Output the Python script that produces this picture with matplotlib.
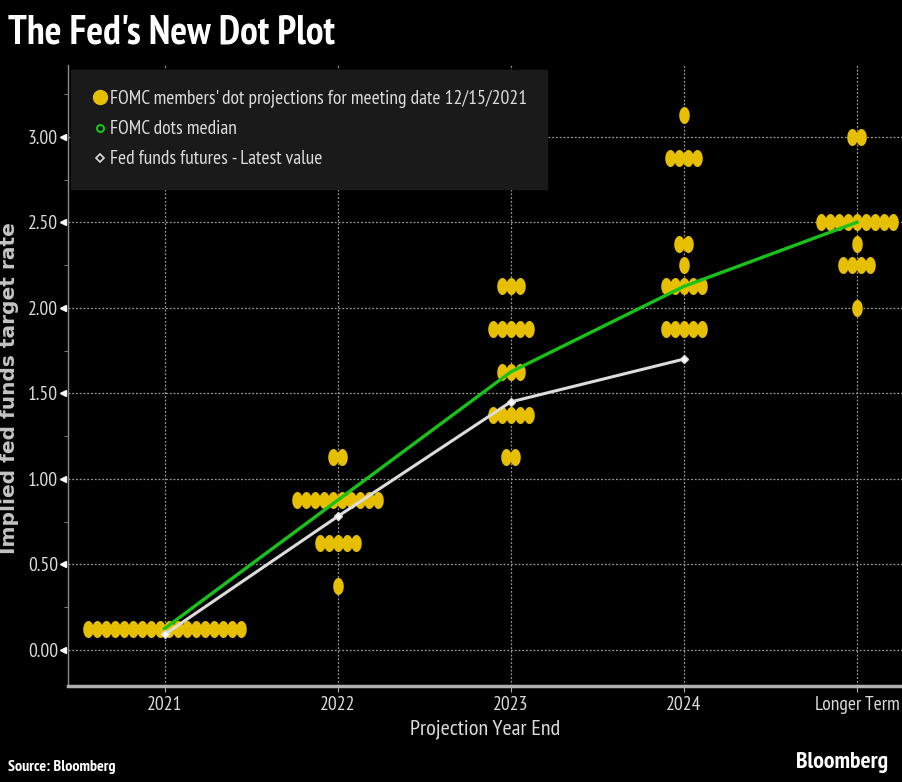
import numpy as np
import matplotlib
matplotlib.use('Agg')
from matplotlib import pyplot as plt
from matplotlib import font_manager as fm
from matplotlib.font_manager import FontProperties
from matplotlib.lines import Line2D
from matplotlib.path import Path

# the reference uses a very narrow font: look for a narrow / condensed family
cands = {}
for f in fm.fontManager.ttflist:
    if f.style != 'normal':
        continue
    if 'Narrow' in f.name or 'Condensed' in f.name or \
            str(f.stretch) in ('condensed', 'semi-condensed', 'extra-condensed'):
        w = f.weight if isinstance(f.weight, int) else fm.weight_dict.get(f.weight, 400)
        cands.setdefault(f.name, {})[w] = f.fname


def score(name):
    ws = cands[name]
    return (any(w >= 700 for w in ws), 'Narrow' in name, 400 in ws)


if cands:
    narrow = max(cands, key=score)
    ws = cands[narrow]
    reg_w = min(ws, key=lambda w: abs(w - 400))
    bold_w = max(ws)
    reg_fp = FontProperties(fname=ws[reg_w])
    bold_fp = FontProperties(fname=ws[bold_w])
    k = 1.0
else:
    reg_fp = FontProperties(family='Liberation Sans')
    bold_fp = FontProperties(family='Liberation Sans', weight='bold')
    k = 0.85
wide_bold = FontProperties(family='DejaVu Sans', weight='bold')

# data
categories = ['2021', '2022', '2023', '2024', 'Longer Term']
# dot projections: {rate: number of members} per category
dots_2021 = {0.125: 18}
dots_2022 = {1.125: 2, 0.875: 10, 0.625: 5, 0.375: 1}
dots_2023 = {2.125: 3, 1.875: 5, 1.625: 3, 1.375: 5, 1.125: 2}
dots_2024 = {3.125: 1, 2.875: 4, 2.375: 2, 2.25: 1, 2.125: 5, 1.875: 5}
dots_longer = {3.0: 2, 2.5: 9, 2.375: 1, 2.25: 4, 2.0: 1}
all_dots = [dots_2021, dots_2022, dots_2023, dots_2024, dots_longer]
median = [0.125, 0.875, 1.625, 2.125, 2.5]
futures = [0.09, 0.78, 1.45, 1.70]
yticks = [0.0, 0.5, 1.0, 1.5, 2.0, 2.5, 3.0]

yellow = '#e6c000'
green = '#19c219'
bg = 'black'
txt = '#dcdcdc'

# tall ellipse marker
t = np.linspace(0, 2*np.pi, 40)
ell = Path(np.column_stack([0.62*np.cos(t), np.sin(t)]), closed=True)

fig = plt.figure(figsize=(9.02, 7.82), dpi=100, facecolor=bg)
ax = fig.add_axes([0.075, 0.123, 0.925, 0.794], facecolor=bg)

step = 0.052
for i, d in enumerate(all_dots):
    xs, ys = [], []
    for rate, n in d.items():
        off = (np.arange(n) - (n - 1) / 2) * step
        xs.extend(i + off)
        ys.extend([rate] * n)
    ax.scatter(xs, ys, marker=ell, s=150, color=yellow, linewidths=0, zorder=3)

ax.plot(range(len(median)), median, color=green, lw=2.4, zorder=4)
ax.plot(range(len(futures)), futures, color='#dcdcdc', lw=2.2, zorder=4)
ax.plot(range(len(futures)), futures, ls='none', marker='D', ms=4,
        mfc='white', mec='#dcdcdc', zorder=5)

ax.set_xlim(-0.56, 4.26)
ax.set_ylim(-0.21, 3.42)
ax.set_xticks(range(len(categories)))
ax.set_xticklabels(categories)
ax.set_yticks(yticks)
ax.set_yticklabels(['%.2f' % v for v in yticks])
ax.set_yticks(np.arange(0.25, 3.4, 0.5), minor=True)
for lab in ax.get_xticklabels() + ax.get_yticklabels():
    lab.set_fontproperties(reg_fp)
    lab.set_fontsize(14*k)

ax.grid(True, which='major', color='#9a9a9a', ls=(0, (1.5, 1.5)), lw=0.9)
ax.set_axisbelow(True)
for s in ['top', 'right']:
    ax.spines[s].set_visible(False)
ax.spines['left'].set_color('#8a8a8a')
ax.spines['left'].set_linewidth(1.0)
ax.spines['bottom'].set_color('#b0b0b0')
ax.spines['bottom'].set_linewidth(2.5)

ax.tick_params(axis='y', which='major', colors=txt, length=0, pad=7)
ax.tick_params(axis='y', which='minor', color='#8a8a8a', length=3, direction='out')
ax.tick_params(axis='x', colors=txt, length=4, color='#b0b0b0', pad=3)
# small arrow heads on the y ticks
ax.plot([-0.005] * len(yticks), yticks, ls='none', marker='<', ms=4, color='white',
        transform=ax.get_yaxis_transform(), clip_on=False)

ax.set_xlabel('Projection Year End', color=txt, fontproperties=reg_fp,
              fontsize=16*k, labelpad=4)
ax.set_ylabel('Implied fed funds target rate', color='#c4c4c4',
              fontproperties=wide_bold, fontsize=14.5)
ax.yaxis.set_label_coords(-0.058, 0.48)

handles = [
    Line2D([], [], ls='none', marker='o', ms=10, color=yellow),
    Line2D([], [], ls='none', marker='o', ms=5, mfc='none', mec=green, mew=1.5),
    Line2D([], [], ls='none', marker='D', ms=4, mfc='none', mec='#dcdcdc', mew=1.2),
]
labels = ["FOMC members' dot projections for meeting date 12/15/2021",
          'FOMC dots median', 'Fed funds futures - Latest value']
leg_fp = reg_fp.copy()
leg_fp.set_size(14*k)
leg = ax.legend(handles, labels, loc='upper left', bbox_to_anchor=(0.004, 0.992),
                prop=leg_fp, frameon=True, facecolor='#1a1a1a', edgecolor='#1a1a1a',
                framealpha=1, fancybox=False, handletextpad=0.05, handlelength=0.9,
                borderpad=1.05, labelspacing=0.62, borderaxespad=0)
for tx in leg.get_texts():
    tx.set_color(txt)

fig.text(0.009, 0.958, "The Fed's New Dot Plot", color='white', fontproperties=bold_fp,
         fontsize=28.5*k, ha='left', va='center')
fig.text(0.009, 0.019, 'Source: Bloomberg', color='white', fontproperties=bold_fp,
         fontsize=11.5*k, ha='left', va='center')
fig.text(0.985, 0.025, 'Bloomberg', color='white', fontproperties=bold_fp,
         fontsize=17*k, ha='right', va='center')

fig.savefig('out.png', dpi=100, facecolor=bg)
